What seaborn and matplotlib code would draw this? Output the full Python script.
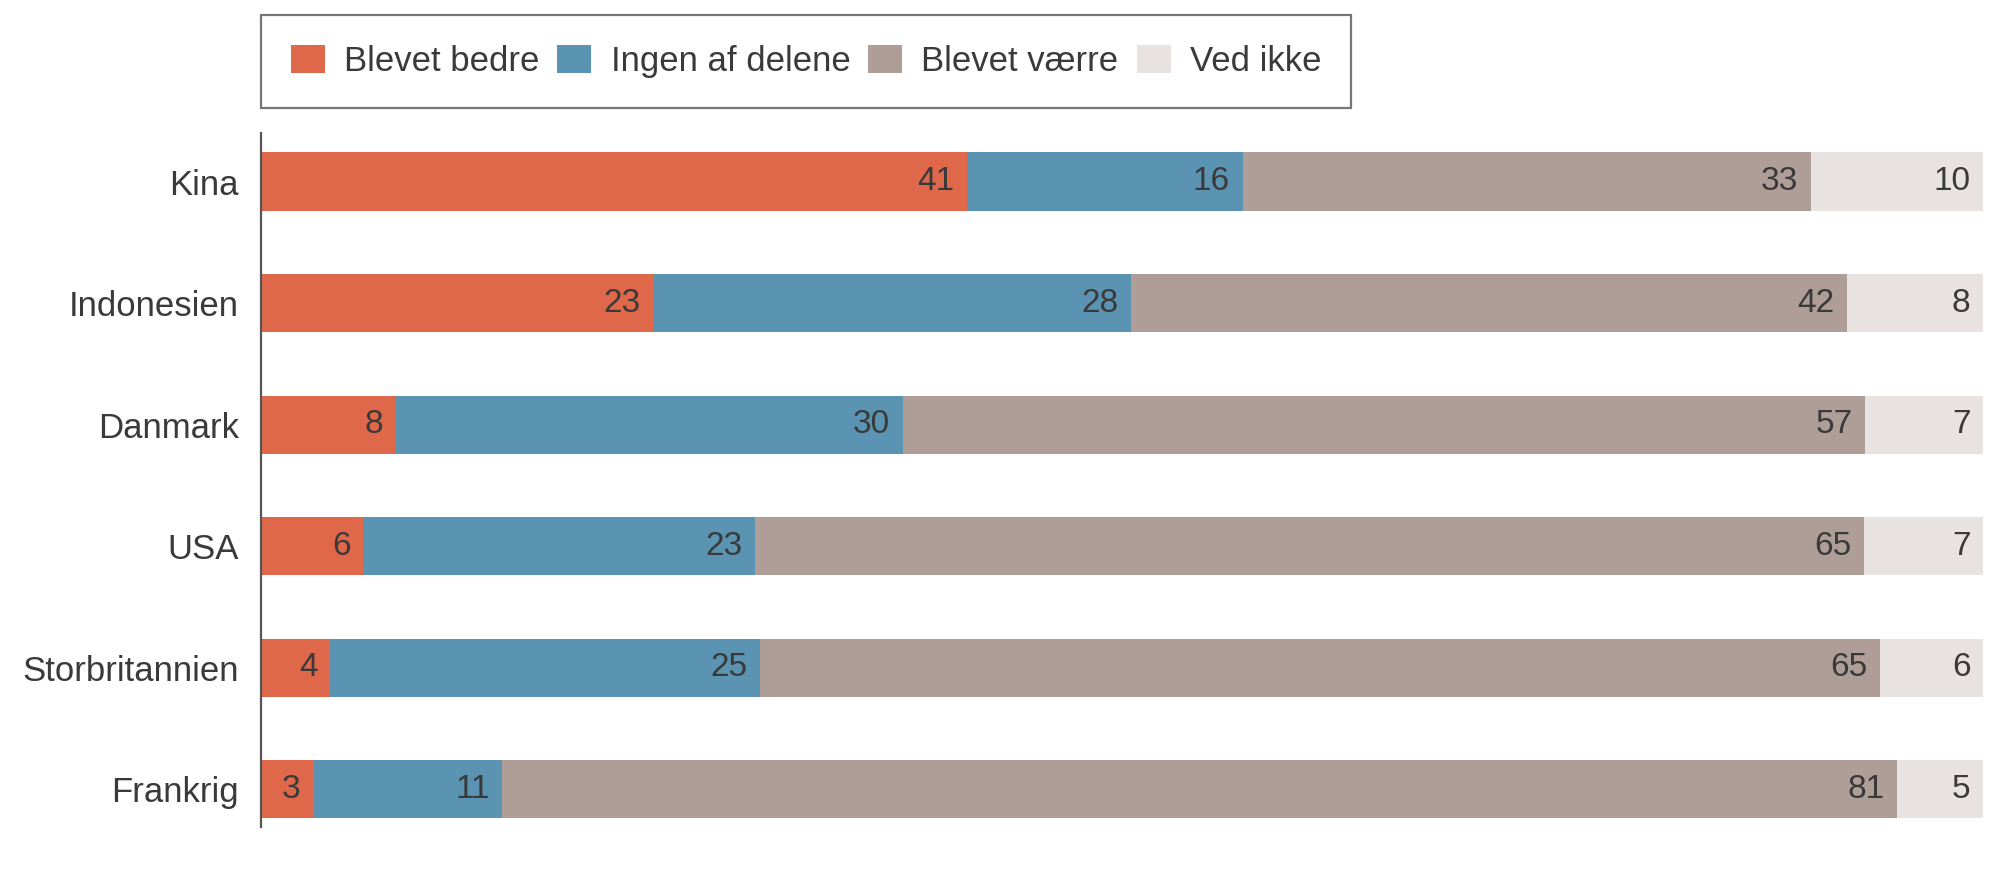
import numpy as np
import pandas as pd
import seaborn as sns
import matplotlib.pyplot as plt
from matplotlib.patches import Patch

countries = ["Kina", "Indonesien", "Danmark", "USA", "Storbritannien", "Frankrig"]
categories = ["Blevet bedre", "Ingen af delene", "Blevet værre", "Ved ikke"]
bedre = [41, 23, 8, 6, 4, 3]
ingen = [16, 28, 30, 23, 25, 11]
vaerre = [33, 42, 57, 65, 65, 81]
ved_ikke = [10, 8, 7, 7, 6, 5]
colors = ["#E0684A", "#5B94B2", "#AE9E97", "#E8E2E0"]

df = pd.DataFrame({"land": countries, "Blevet bedre": bedre, "Ingen af delene": ingen,
                   "Blevet værre": vaerre, "Ved ikke": ved_ikke})

# rows are shown as full-width bars, so scale each row to 100
shares = df[categories].div(df[categories].sum(axis=1), axis=0) * 100
cum = shares.cumsum(axis=1)

sns.set_style("white")
plt.rcParams["font.family"] = ["Liberation Sans", "DejaVu Sans"]
text_col = "#3a3a3a"

fig = plt.figure(figsize=(20, 8.84), dpi=100)
ax = fig.add_axes([0.1305, 0.0645, 0.861, 0.785])

# stacked bars: draw the longest cumulative bar first, shorter ones on top
for cat, col in reversed(list(zip(categories, colors))):
    sns.barplot(x=cum[cat], y=df["land"], color=col, orient="h", width=0.48,
                saturation=1, linewidth=0, ax=ax)

for i in range(len(countries)):
    for cat in categories:
        ax.annotate(str(df.loc[i, cat]), (cum.loc[i, cat], i), xytext=(-9, 0),
                    textcoords="offset points", ha="right", va="center",
                    fontsize=24, color=text_col)

ax.set_xlim(0, 100)
ax.set_ylim(5.31, -0.40)
ax.set_xlabel("")
ax.set_ylabel("")
ax.set_xticks([])
for s in ["top", "right", "bottom"]:
    ax.spines[s].set_visible(False)
ax.spines["left"].set_color("#555555")
ax.spines["left"].set_linewidth(1.6)
ax.tick_params(axis="y", length=0, pad=16, labelsize=25, labelcolor=text_col)

handles = [Patch(facecolor=c, edgecolor="none") for c in colors]
leg = fig.legend(handles, categories, loc="upper left", bbox_to_anchor=(261 / 2000, 1 - 15 / 884),
                 ncol=4, fontsize=25, frameon=True, fancybox=False, borderaxespad=0,
                 handlelength=0.98, handleheight=0.86, handletextpad=0.55,
                 columnspacing=0.52, borderpad=0.86, labelcolor=text_col)
leg.get_frame().set_edgecolor("#555555")
leg.get_frame().set_linewidth(1.6)

fig.savefig("out.png", dpi=100)
